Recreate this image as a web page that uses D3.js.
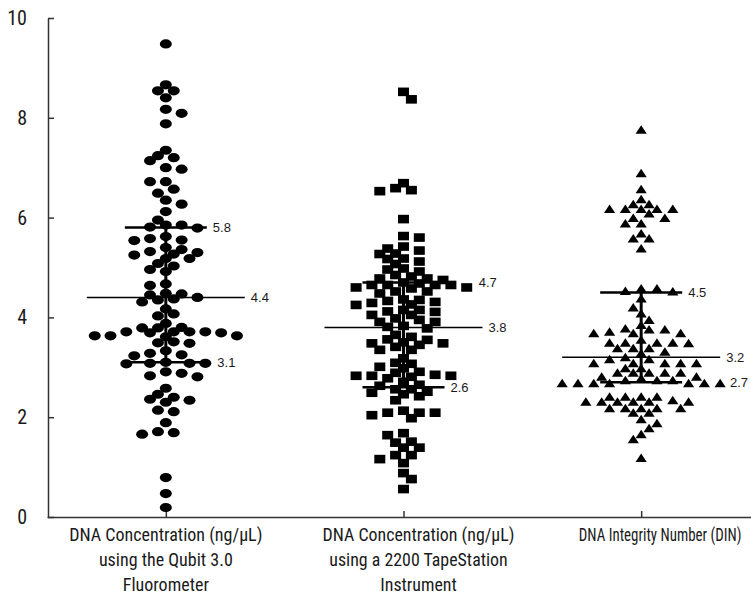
<!DOCTYPE html>
<html>
<head>
<meta charset="utf-8">
<script src="https://cdn.jsdelivr.net/npm/d3@7"></script>
<style>
body { margin: 0; background: #fff; }
text { fill: #1a1a1a; }
</style>
</head>
<body>
<svg id="chart" width="751" height="600"></svg>
<script>
// values
var categories = [
  ["DNA Concentration (ng/µL)", "using the Qubit 3.0", "Fluorometer"],
  ["DNA Concentration (ng/µL)", "using a 2200 TapeStation", "Instrument"],
  ["DNA Integrity Number (DIN)"]
];

var qubitValues = [9.48, 8.66, 8.54, 8.54, 8.40, 8.17, 8.09, 7.88, 7.35, 7.24, 7.20, 7.14, 7.00, 6.97,
  6.72, 6.72, 6.57, 6.49, 6.35, 6.27, 6.12, 5.95, 5.85, 5.85, 5.81, 5.79, 5.62, 5.58, 5.55, 5.54,
  5.40, 5.36, 5.32, 5.30, 5.27, 5.25, 5.18, 5.18, 5.08, 5.03, 4.96, 4.92, 4.67, 4.64, 4.48, 4.47,
  4.45, 4.40, 4.37, 4.35, 4.31, 4.17, 4.07, 4.03, 3.88, 3.80, 3.79, 3.79, 3.71, 3.71, 3.71, 3.71,
  3.69, 3.69, 3.63, 3.63, 3.63, 3.61, 3.51, 3.49, 3.48, 3.33, 3.28, 3.25, 3.23, 3.10, 3.08, 3.08,
  3.07, 3.08, 2.91, 2.88, 2.83, 2.81, 2.58, 2.46, 2.40, 2.36, 2.34, 2.30, 2.14, 2.11, 1.89, 1.71,
  1.69, 1.66, 0.79, 0.47, 0.19];

var tapeValues = [8.52, 8.37, 6.69, 6.59, 6.55, 6.53, 5.97, 5.63, 5.60, 5.42, 5.38, 5.34, 5.28, 5.27,
  5.18, 5.17, 5.12, 5.07, 4.98, 4.96, 4.92, 4.85, 4.82, 4.78, 4.78, 4.75, 4.70, 4.68, 4.65, 4.65,
  4.65, 4.65, 4.60, 4.60, 4.58, 4.52, 4.52, 4.48, 4.36, 4.35, 4.33, 4.31, 4.29, 4.26, 4.25, 4.15,
  4.15, 4.12, 4.11, 4.05, 4.05, 3.98, 3.95, 3.91, 3.91, 3.83, 3.81, 3.78, 3.65, 3.61, 3.56, 3.55,
  3.50, 3.48, 3.48, 3.45, 3.41, 3.35, 3.35, 3.18, 3.09, 3.07, 3.01, 2.98, 2.91, 2.89, 2.85, 2.83,
  2.83, 2.83, 2.81, 2.78, 2.71, 2.65, 2.63, 2.56, 2.56, 2.51, 2.49, 2.46, 2.42, 2.34, 2.13, 2.09,
  2.09, 2.09, 2.04, 1.98, 1.68, 1.64, 1.51, 1.49, 1.39, 1.39, 1.24, 1.24, 1.16, 1.08, 0.88, 0.76,
  0.56];

var dinValues = [7.76, 6.89, 6.57, 6.37, 6.27, 6.27, 6.17, 6.17, 6.17, 6.17, 6.17, 6.08, 5.99, 5.99,
  5.88, 5.88, 5.68, 5.58, 5.58, 5.38, 4.58, 4.58, 4.53, 4.52, 4.38, 4.20, 4.08, 3.95, 3.85, 3.78,
  3.76, 3.76, 3.71, 3.68, 3.68, 3.68, 3.55, 3.49, 3.49, 3.49, 3.49, 3.48, 3.38, 3.38, 3.38, 3.31,
  3.28, 3.20, 3.16, 3.16, 3.08, 3.08, 3.08, 3.08, 3.08, 2.98, 2.98, 2.89, 2.89, 2.89, 2.89, 2.89,
  2.81, 2.81, 2.78, 2.74, 2.74, 2.74, 2.68, 2.68, 2.68, 2.68, 2.68, 2.68, 2.68, 2.41, 2.41, 2.41,
  2.41, 2.34, 2.31, 2.31, 2.31, 2.31, 2.31, 2.31, 2.18, 2.18, 2.18, 2.18, 2.18, 2.09, 2.09, 1.96,
  1.88, 1.78, 1.66, 1.56, 1.18];

var medians = [4.4, 3.8, 3.2];
var upperQuartiles = [5.8, 4.7, 4.5];
var lowerQuartiles = [3.1, 2.6, 2.7];
var yTicks = [0, 2, 4, 6, 8, 10];

var series = [qubitValues, tapeValues, dinValues];
var markerKinds = ["dot", "square", "triangle"];

var svg = d3.select("#chart");
var axisFont = "'Liberation Sans Narrow', 'Roboto Condensed', 'DejaVu Sans Condensed', 'Arial Narrow', sans-serif";

var y = d3.scaleLinear().domain([0, 10]).range([517, 18]);
var x = d3.scalePoint().domain([0, 1, 2]).range([47, 760]).padding(0.5);

var colStep = 15.8;   // spacing of swarm columns

// greedy beeswarm on a half-column grid: a marker may sit straight above
// another only 9px away, half a column aside only 4px away
function swarm(values) {
  var placed = [];
  var bal = 0;
  values.slice().sort(d3.descending).forEach(function (v) {
    var py = y(v);
    var free = function (c) {
      return placed.every(function (p) {
        var dx = Math.abs(p.col - c) * colStep, dy = Math.abs(p.py - py);
        return !((dx < 4 && dy < 9) || (dx < 15 && dy < 4));
      });
    };
    var best = null;
    for (var k = 0; k <= 40 && best === null; k++) {
      var off = k / 2;
      var cands = off == 0 ? [0] : (bal > 0 ? [-off, off] : [off, -off]);
      for (var c = 0; c < cands.length; c++) {
        if (free(cands[c])) { best = cands[c]; break; }
      }
    }
    bal += Math.sign(best);
    placed.push({ v: v, py: py, col: best });
  });
  return placed;
}

// axes
var yAxis = d3.axisLeft(y).tickValues(yTicks).tickSizeInner(-6).tickSizeOuter(0).tickPadding(21);
var gy = svg.append("g").attr("transform", "translate(48,0)").call(yAxis);
gy.select(".domain").attr("stroke", "#333").attr("stroke-width", 1.5);
gy.selectAll(".tick line").attr("stroke", "#333").attr("stroke-width", 1.5);
gy.selectAll(".tick text").attr("font-family", axisFont).attr("font-size", 20).attr("fill", "#1a1a1a");

var xAxis = d3.axisBottom(x).tickSizeInner(-6).tickSizeOuter(0).tickFormat("");
var gx = svg.append("g").attr("transform", "translate(0,517)").call(xAxis);
gx.select(".domain").attr("stroke", "#333").attr("stroke-width", 1.5);
gx.selectAll(".tick line").attr("stroke", "#333").attr("stroke-width", 1.5);

// category labels, squeezed sideways to the narrow face of the original
var labelShift = [0, 15, 19];
var labelWidth = [194, 192, 163];
categories.forEach(function (lines, i) {
  var t = svg.append("text")
    .attr("text-anchor", "middle")
    .attr("font-family", axisFont)
    .attr("font-size", 18);
  t.selectAll("tspan").data(lines).enter().append("tspan")
    .attr("x", 0)
    .attr("dy", function (d, j) { return j == 0 ? 0 : 25; })
    .text(function (d) { return d; });
  var w = t.select("tspan").node().getComputedTextLength();
  var squeeze = Math.min(1, labelWidth[i] / w);
  t.attr("transform", "translate(" + (x(i) + labelShift[i]) + ",541) scale(" + squeeze + ",1)");
});

var medHalf = 79, qHalf = 41;

series.forEach(function (vals, i) {
  var cx = x(i);
  var pts = swarm(vals);
  var g = svg.append("g");

  var marks = g.selectAll(".m").data(pts).enter();
  if (markerKinds[i] == "dot") {
    marks.append("ellipse")
      .attr("cx", function (d) { return cx + d.col * colStep; })
      .attr("cy", function (d) { return d.py; })
      .attr("rx", 6).attr("ry", 4.6).attr("fill", "#000");
  } else if (markerKinds[i] == "square") {
    marks.append("rect")
      .attr("x", function (d) { return cx + d.col * colStep - 5.5; })
      .attr("y", function (d) { return d.py - 4.3; })
      .attr("width", 11).attr("height", 8.6).attr("fill", "#000");
  } else {
    marks.append("path")
      .attr("d", "M0,-4.5L5.6,4L-5.6,4Z")
      .attr("transform", function (d) { return "translate(" + (cx + d.col * colStep) + "," + d.py + ")"; })
      .attr("fill", "#000");
  }

  // median, quartiles and the bar joining them
  g.append("line").attr("x1", cx).attr("x2", cx)
    .attr("y1", y(upperQuartiles[i])).attr("y2", y(lowerQuartiles[i]))
    .attr("stroke", "#000").attr("stroke-width", 3);
  g.append("line").attr("x1", cx - medHalf).attr("x2", cx + medHalf)
    .attr("y1", y(medians[i])).attr("y2", y(medians[i]))
    .attr("stroke", "#000").attr("stroke-width", 1.5);
  [upperQuartiles[i], lowerQuartiles[i]].forEach(function (q) {
    g.append("line").attr("x1", cx - qHalf).attr("x2", cx + qHalf)
      .attr("y1", y(q)).attr("y2", y(q))
      .attr("stroke", "#000").attr("stroke-width", 2.5);
  });

  // value labels sit right of the line or of any marker on that row
  [[upperQuartiles[i], qHalf], [medians[i], medHalf], [lowerQuartiles[i], qHalf]].forEach(function (s) {
    var ly = y(s[0]);
    var right = cx + s[1];
    pts.forEach(function (p) {
      if (Math.abs(p.py - ly) < 7) right = Math.max(right, cx + p.col * colStep + 6);
    });
    g.append("text")
      .attr("x", Math.min(right + 6, 730))
      .attr("y", ly)
      .attr("dy", "0.35em")
      .attr("font-family", "'Liberation Sans', Arial, sans-serif")
      .attr("font-size", 13)
      .attr("fill", "#333")
      .text(d3.format(".1f")(s[0]));
  });
});
</script>
</body>
</html>
